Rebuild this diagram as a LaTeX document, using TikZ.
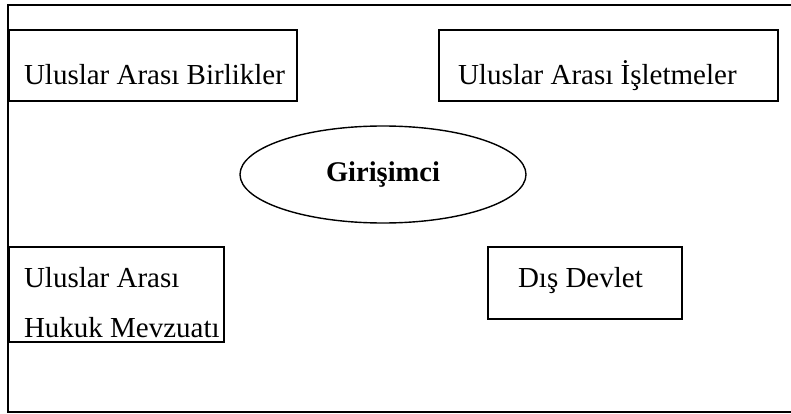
\documentclass[tikz,border=0pt]{standalone}
\usepackage{fontspec}
\setmainfont{Liberation Serif}
\usetikzlibrary{shapes.geometric}
\begin{document}
\begin{tikzpicture}[x=1pt,y=-1pt,
  box/.style={draw=black, line width=1.4pt, rectangle, inner sep=0pt, outer sep=0pt},
  lbl/.style={inner sep=0pt, outer sep=0pt, font=\fontsize{29}{50}\selectfont},
  oval/.style={draw=black, line width=1.4pt, ellipse, inner sep=0pt, outer sep=0pt,
    minimum width=286pt, minimum height=97pt, font=\fontsize{28.5}{32}\selectfont\bfseries}]
\useasboundingbox (0,0) rectangle (791,414);
% outer frame (open on the right)
\draw[line width=1.1pt] (800,5) -- (8,5) -- (8,412) -- (800,412);
% boxes
\node[box, minimum width=288pt, minimum height=71pt] (b1) at (153,65.5) {};
\node[lbl, anchor=base west] (t1) at (24,85) {Uluslar Arası Birlikler};
\node[box, minimum width=339pt, minimum height=71pt] (b2) at (608.5,65.5) {};
\node[lbl, anchor=base west] (t2) at (458,85) {Uluslar Arası İşletmeler};
\node[oval] (g) at (383,174.5) {Girişimci};
\node[box, minimum width=215pt, minimum height=95pt] (b3) at (116.5,294.5) {};
\node[lbl, anchor=base west, align=left] (t3) at (24,337) {Uluslar Arası\\Hukuk Mevzuatı};
\node[box, minimum width=194pt, minimum height=72pt] (b4) at (585,283) {};
\node[lbl, anchor=base west] (t4) at (518,287) {Dış Devlet};
\end{tikzpicture}
\end{document}
